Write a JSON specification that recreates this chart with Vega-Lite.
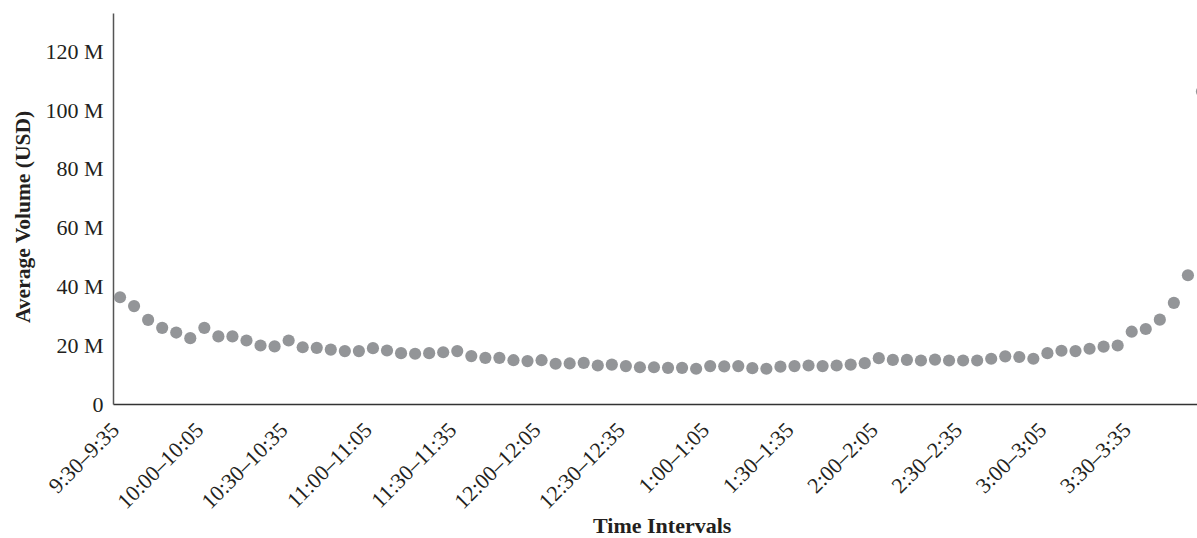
{
  "$schema": "https://vega.github.io/schema/vega-lite/v6.json",
  "autosize": {"type": "none"},
  "padding": {"left": 113, "top": 13, "right": 0, "bottom": 134},
  "width": 1084,
  "height": 391,
  "background": "white",
  "config": {
    "view": {"stroke": null},
    "font": "Liberation Serif",
    "axis": {"grid": false, "ticks": false, "labelFont": "Liberation Serif", "titleFont": "Liberation Serif", "labelColor": "#231f20", "titleColor": "#231f20", "titleFontWeight": "bold"}
  },
  "data": {
    "values": [
      {"interval": "9:30–9:35", "volume": 36300000},
      {"interval": "9:35–9:40", "volume": 33300000},
      {"interval": "9:40–9:45", "volume": 28600000},
      {"interval": "9:45–9:50", "volume": 25900000},
      {"interval": "9:50–9:55", "volume": 24300000},
      {"interval": "9:55–10:00", "volume": 22400000},
      {"interval": "10:00–10:05", "volume": 25900000},
      {"interval": "10:05–10:10", "volume": 23000000},
      {"interval": "10:10–10:15", "volume": 23000000},
      {"interval": "10:15–10:20", "volume": 21600000},
      {"interval": "10:20–10:25", "volume": 19900000},
      {"interval": "10:25–10:30", "volume": 19600000},
      {"interval": "10:30–10:35", "volume": 21600000},
      {"interval": "10:35–10:40", "volume": 19300000},
      {"interval": "10:40–10:45", "volume": 19100000},
      {"interval": "10:45–10:50", "volume": 18500000},
      {"interval": "10:50–10:55", "volume": 18000000},
      {"interval": "10:55–11:00", "volume": 18000000},
      {"interval": "11:00–11:05", "volume": 19000000},
      {"interval": "11:05–11:10", "volume": 18200000},
      {"interval": "11:10–11:15", "volume": 17300000},
      {"interval": "11:15–11:20", "volume": 17100000},
      {"interval": "11:20–11:25", "volume": 17300000},
      {"interval": "11:25–11:30", "volume": 17600000},
      {"interval": "11:30–11:35", "volume": 18000000},
      {"interval": "11:35–11:40", "volume": 16300000},
      {"interval": "11:40–11:45", "volume": 15700000},
      {"interval": "11:45–11:50", "volume": 15700000},
      {"interval": "11:50–11:55", "volume": 14900000},
      {"interval": "11:55–12:00", "volume": 14600000},
      {"interval": "12:00–12:05", "volume": 14900000},
      {"interval": "12:05–12:10", "volume": 13700000},
      {"interval": "12:10–12:15", "volume": 13800000},
      {"interval": "12:15–12:20", "volume": 14000000},
      {"interval": "12:20–12:25", "volume": 13100000},
      {"interval": "12:25–12:30", "volume": 13400000},
      {"interval": "12:30–12:35", "volume": 12900000},
      {"interval": "12:35–12:40", "volume": 12500000},
      {"interval": "12:40–12:45", "volume": 12500000},
      {"interval": "12:45–12:50", "volume": 12300000},
      {"interval": "12:50–12:55", "volume": 12300000},
      {"interval": "12:55–1:00", "volume": 12000000},
      {"interval": "1:00–1:05", "volume": 12900000},
      {"interval": "1:05–1:10", "volume": 12800000},
      {"interval": "1:10–1:15", "volume": 12900000},
      {"interval": "1:15–1:20", "volume": 12200000},
      {"interval": "1:20–1:25", "volume": 12000000},
      {"interval": "1:25–1:30", "volume": 12700000},
      {"interval": "1:30–1:35", "volume": 12900000},
      {"interval": "1:35–1:40", "volume": 13100000},
      {"interval": "1:40–1:45", "volume": 12900000},
      {"interval": "1:45–1:50", "volume": 13100000},
      {"interval": "1:50–1:55", "volume": 13400000},
      {"interval": "1:55–2:00", "volume": 13900000},
      {"interval": "2:00–2:05", "volume": 15600000},
      {"interval": "2:05–2:10", "volume": 15000000},
      {"interval": "2:10–2:15", "volume": 15000000},
      {"interval": "2:15–2:20", "volume": 14800000},
      {"interval": "2:20–2:25", "volume": 15100000},
      {"interval": "2:25–2:30", "volume": 14800000},
      {"interval": "2:30–2:35", "volume": 14800000},
      {"interval": "2:35–2:40", "volume": 14800000},
      {"interval": "2:40–2:45", "volume": 15400000},
      {"interval": "2:45–2:50", "volume": 16200000},
      {"interval": "2:50–2:55", "volume": 16000000},
      {"interval": "2:55–3:00", "volume": 15400000},
      {"interval": "3:00–3:05", "volume": 17300000},
      {"interval": "3:05–3:10", "volume": 18100000},
      {"interval": "3:10–3:15", "volume": 18000000},
      {"interval": "3:15–3:20", "volume": 18800000},
      {"interval": "3:20–3:25", "volume": 19500000},
      {"interval": "3:25–3:30", "volume": 19900000},
      {"interval": "3:30–3:35", "volume": 24600000},
      {"interval": "3:35–3:40", "volume": 25500000},
      {"interval": "3:40–3:45", "volume": 28700000},
      {"interval": "3:45–3:50", "volume": 34400000},
      {"interval": "3:50–3:55", "volume": 43800000},
      {"interval": "3:55–4:00", "volume": 106300000}
    ]
  },
  "mark": {"type": "circle", "size": 148, "color": "#939598", "opacity": 1},
  "encoding": {
    "x": {
      "field": "interval",
      "type": "ordinal",
      "sort": null,
      "scale": {"type": "point", "padding": 0.5, "range": [0, 1096]},
      "axis": {
        "title": "Time Intervals",
        "titleFontSize": 22,
        "titleX": 548.7,
        "titleY": 121.5,
        "titleBaseline": "middle",
        "titleAlign": "center",
        "labelFontSize": 22,
        "labelAngle": -45,
        "labelAlign": "right",
        "labelBaseline": "middle",
        "labelPadding": 22,
        "labelOffset": -5,
        "labelOverlap": false,
        "labelLimit": 0,
        "domainColor": "#333333",
        "domainWidth": 1.5,
        "values": ["9:30–9:35", "10:00–10:05", "10:30–10:35", "11:00–11:05", "11:30–11:35", "12:00–12:05", "12:30–12:35", "1:00–1:05", "1:30–1:35", "2:00–2:05", "2:30–2:35", "3:00–3:05", "3:30–3:35"]
      }
    },
    "y": {
      "field": "volume",
      "type": "quantitative",
      "scale": {"domain": [0, 133000000], "nice": false, "zero": true},
      "axis": {
        "title": "Average Volume (USD)",
        "titleFontSize": 21.5,
        "titleX": -89.5,
        "titleY": 203.5,
        "titleAngle": -90,
        "titleBaseline": "middle",
        "titleAlign": "center",
        "labelFontSize": 22,
        "labelPadding": 10,
        "values": [0, 20000000, 40000000, 60000000, 80000000, 100000000, 120000000],
        "labelExpr": "datum.value === 0 ? '0' : format(datum.value / 1000000, 'd') + ' M'",
        "domainColor": "#555555",
        "domainWidth": 1.5
      }
    }
  }
}
